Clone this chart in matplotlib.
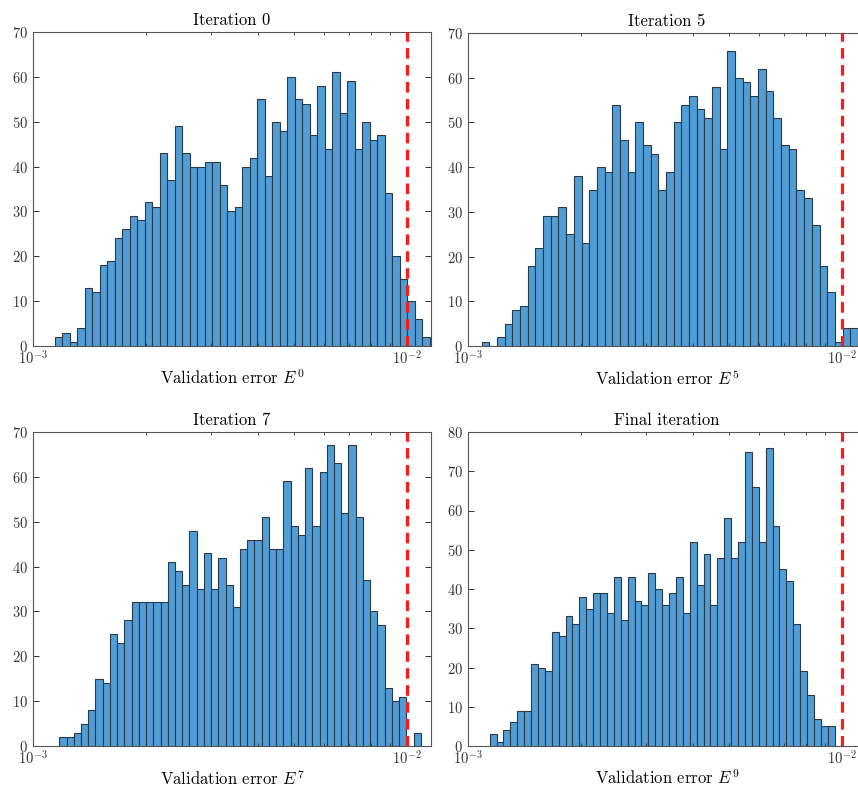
import numpy as np
import matplotlib
matplotlib.use("Agg")
import matplotlib.pyplot as plt

plt.rcParams['font.family'] = ['cmr10', 'DejaVu Serif']
plt.rcParams['mathtext.fontset'] = 'cm'
plt.rcParams['axes.formatter.use_mathtext'] = True
plt.rcParams['axes.unicode_minus'] = True

# ---- data (histogram counts per log-spaced bin) ----
titles = ["Iteration 0", "Iteration 5", "Iteration 7", "Final iteration"]
xlabels = [r"Validation error $E^{0}$", r"Validation error $E^{5}$",
           r"Validation error $E^{7}$", r"Validation error $E^{9}$"]

counts_it0 = [2, 3, 1, 4, 13, 12, 18, 19, 24, 26, 29, 28, 32, 31, 43, 37, 49, 43, 40, 40,
              41, 41, 36, 30, 31, 40, 42, 55, 38, 50, 48, 60, 55, 54, 47, 58, 44, 61, 52, 59,
              44, 50, 46, 47, 34, 20, 15, 10, 6, 2]
counts_it5 = [1, 0, 2, 5, 8, 9, 18, 22, 29, 29, 31, 25, 38, 23, 35, 40, 39, 54, 46, 39,
              50, 45, 43, 35, 39, 50, 54, 56, 53, 51, 58, 44, 66, 60, 59, 56, 62, 57, 51, 45,
              44, 35, 33, 27, 18, 12, 1, 4, 4]
counts_it7 = [2, 2, 3, 5, 8, 15, 14, 25, 23, 28, 32, 32, 32, 32, 32, 41, 39, 36, 48, 35,
              43, 35, 42, 36, 31, 44, 46, 46, 51, 44, 44, 59, 49, 47, 62, 49, 61, 67, 63, 52,
              67, 51, 37, 30, 27, 13, 10, 11, 0, 3]
counts_it9 = [3, 1, 4, 6, 9, 9, 21, 20, 19, 29, 28, 33, 31, 38, 35, 39, 39, 34, 43, 32,
              43, 37, 36, 44, 40, 36, 39, 43, 34, 52, 41, 49, 36, 48, 58, 48, 52, 75, 66, 52,
              76, 56, 45, 42, 31, 19, 13, 7, 5, 5]

# first bin edge (log10) and log10 bin width of each histogram
bin_start_log = [-2.9412, -2.9634, -2.9297, -2.9422]
bin_width_log = [0.02005, 0.02053, 0.01933, 0.01845]

threshold = 1e-2
ymax = [70, 70, 70, 80]
x_min = 1e-3
x_max = 10 ** (-3 + 398 / 374)

all_counts = [counts_it0, counts_it5, counts_it7, counts_it9]

W, H = 858, 792
fig = plt.figure(figsize=(W / 100, H / 100), dpi=100)


def pos(l, t, w, h):
    return [l / W, 1 - (t + h) / H, w / W, h / H]


positions = [pos(33, 32, 398, 314), pos(468, 33, 398, 313),
             pos(33, 432, 398, 314), pos(468, 432, 398, 314)]

bar_color = '#519dd6'
edge_color = '#2b3a48'

for i in range(4):
    ax = fig.add_axes(positions[i])
    c = np.array(all_counts[i], dtype=float)
    n = len(c)
    edges = 10 ** (bin_start_log[i] + bin_width_log[i] * np.arange(n + 1))
    ax.hist(edges[:-1], bins=edges, weights=c, color=bar_color,
            edgecolor=edge_color, linewidth=0.8)
    ax.axvline(threshold, color='#ff1a1a', lw=2.3, linestyle=(0, (3.3, 2.0)), zorder=4)
    ax.set_xscale('log')
    ax.set_xlim(x_min, x_max)
    ax.set_ylim(0, ymax[i])
    ax.set_yticks(np.arange(0, ymax[i] + 1, 10))
    ax.set_title(titles[i], fontsize=12, pad=5)
    ax.set_xlabel(xlabels[i], fontsize=12, labelpad=0)
    ax.tick_params(which='both', direction='in', top=True, right=True,
                   labelsize=10.5, colors='#333333')
    ax.tick_params(axis='x', which='major', pad=3)
    ax.tick_params(which='major', length=4, width=0.7)
    ax.tick_params(which='minor', length=2, width=0.6)
    for s in ax.spines.values():
        s.set_color('#555555')
        s.set_linewidth(0.8)

fig.savefig('out.png', dpi=100, facecolor='white')
